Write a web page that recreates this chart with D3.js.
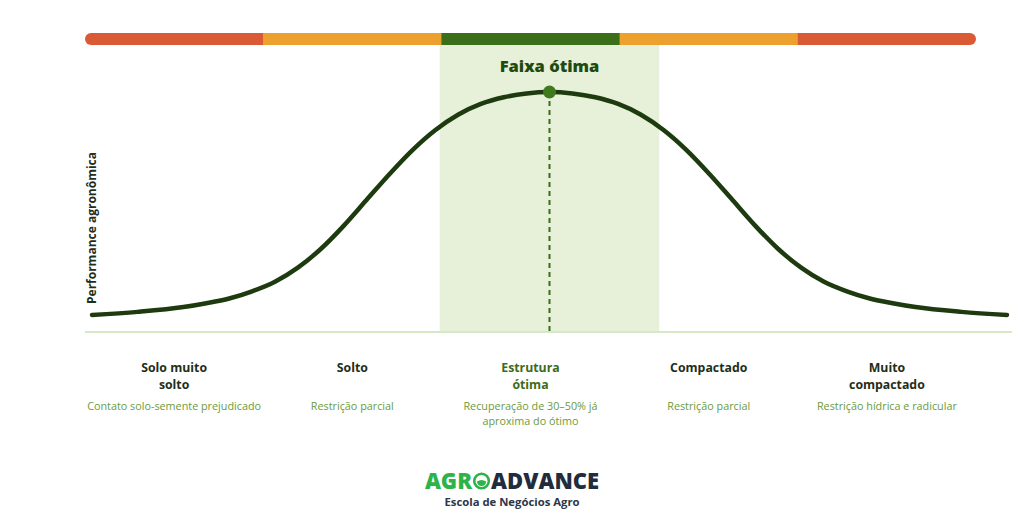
<!DOCTYPE html>
<html><head><meta charset="utf-8">
<script src="https://cdn.jsdelivr.net/npm/d3@7"></script>
<style>body{margin:0;background:#fff}svg{display:block}</style>
</head><body>
<div id="chart"></div>
<script>
// ---- data ----
const categories = ["Solo muito solto","Solto","Estrutura ótima","Compactado","Muito compactado"];
const categoryLines = [["Solo muito","solto"],["Solto"],["Estrutura","ótima"],["Compactado"],["Muito","compactado"]];
const categoryNotes = [["Contato solo-semente prejudicado"],["Restrição parcial"],["Recuperação de 30–50% já","aproxima do ótimo"],["Restrição parcial"],["Restrição hídrica e radicular"]];
const zoneColors = ["#d95a34","#eca02d","#3b6e19","#eca02d","#d95a34"];
const curveX = [0,5,10,12.5,15,17.5,20,22.5,25,27.5,30,32.5,35,37.5,40,42.5,45,47.5,50,52.5,55,57.5,60,62.5,65,67.5,70,72.5,75,77.5,80,82.5,85,87.5,90,95,100];
const curveY = [6.7,8.0,10,11.6,13.6,16.6,20.6,26.5,34.3,44,54.8,65.6,75.6,84,90.5,95,97.8,99.4,100,99.4,97.8,95,90.5,84,75.6,65.6,54.8,44,34.3,26.5,20.6,16.6,13.6,11.6,10,8.0,6.7];
const optimalBand = [38, 62];
const optimum = {x: 50, y: 100};
const yLabel = "Performance agronômica";
const bandLabel = "Faixa ótima";
const logoParts = ["AGR", "ADVANCE"];
const logoSub = "Escola de Negócios Agro";

const W = 1024, H = 518;
const svg = d3.select("#chart").append("svg").attr("width", W).attr("height", H);
const font = "'Open Sans', sans-serif";

const xCat = d3.scaleBand().domain(categories).range([85, 976]).padding(0);
const x = d3.scaleLinear().domain([0, 100]).range([92, 1007]);
const y = d3.scaleLinear().domain([0, 100]).range([331, 92]);

// optimal band
svg.append("rect").attr("x", x(optimalBand[0])).attr("y", 45)
  .attr("width", x(optimalBand[1]) - x(optimalBand[0])).attr("height", y(0) - 45)
  .attr("fill", "#e7f1da");

// top zone bar
const defs = svg.append("defs");
defs.append("clipPath").attr("id", "barclip").append("rect")
  .attr("x", 85).attr("y", 33).attr("width", 891).attr("height", 12).attr("rx", 6);
svg.append("g").attr("clip-path", "url(#barclip)").selectAll("rect").data(categories).join("rect")
  .attr("x", d => xCat(d)).attr("y", 33).attr("width", xCat.bandwidth() + 0.5).attr("height", 12)
  .attr("fill", (d, i) => zoneColors[i]);

// baseline
svg.append("line").attr("x1", 85).attr("x2", 1012).attr("y1", y(0) + 1).attr("y2", y(0) + 1)
  .attr("stroke", "#c9e0b2").attr("stroke-width", 1.6);

// dashed optimum line
svg.append("line").attr("x1", x(optimum.x)).attr("x2", x(optimum.x))
  .attr("y1", y(optimum.y)).attr("y2", y(0))
  .attr("stroke", "#3d6b1a").attr("stroke-width", 2).attr("stroke-dasharray", "5,4");

// curve
const pts = curveX.map((v, i) => [v, curveY[i]]);
svg.append("path").datum(pts)
  .attr("d", d3.line().x(d => x(d[0])).y(d => y(d[1])).curve(d3.curveMonotoneX))
  .attr("fill", "none").attr("stroke", "#1d3b0f").attr("stroke-width", 4.5).attr("stroke-linecap", "round");

// optimum dot
svg.append("circle").attr("cx", x(optimum.x)).attr("cy", y(optimum.y)).attr("r", 6.5).attr("fill", "#3f7a1c");

// band label
svg.append("text").attr("x", x(optimum.x)).attr("y", 72).attr("text-anchor", "middle")
  .attr("font-family", font).attr("font-weight", 800).attr("font-size", 16.5).attr("fill", "#1f4a10")
  .text(bandLabel);

// y label
svg.append("text").attr("transform", `translate(96,228) rotate(-90)`).attr("text-anchor", "middle")
  .attr("font-family", font).attr("font-weight", 700).attr("font-size", 12).attr("fill", "#1e2e18")
  .text(yLabel);

// category labels
const cg = svg.append("g").selectAll("g").data(categories).join("g")
  .attr("transform", d => `translate(${xCat(d) + xCat.bandwidth() / 2},0)`);
cg.each(function(d, i) {
  const g = d3.select(this);
  categoryLines[i].forEach((t, j) => {
    g.append("text").attr("y", 372 + j * 17).attr("text-anchor", "middle")
      .attr("font-family", font).attr("font-weight", 700).attr("font-size", 12.3)
      .attr("fill", i === 2 ? "#3d6b1a" : "#1e2e18").text(t);
  });
  categoryNotes[i].forEach((t, j) => {
    g.append("text").attr("y", 410 + j * 15).attr("text-anchor", "middle")
      .attr("font-family", font).attr("font-size", 10.8).attr("fill", "#6b9b3c").text(t);
  });
});

// logo
const logo = svg.append("g");
const t1 = logo.append("text").attr("y", 489).attr("font-family", font).attr("font-weight", 800)
  .attr("font-size", 22).attr("fill", "#2db34a").text(logoParts[0]);
const t2 = logo.append("text").attr("y", 489).attr("font-family", font).attr("font-weight", 800)
  .attr("font-size", 22).attr("fill", "#1f2d3d").text(logoParts[1]);
const w1 = t1.node().getComputedTextLength(), w2 = t2.node().getComputedTextLength();
const oW = 19;
const total = w1 + oW + w2;
const x0 = 512 - total / 2;
t1.attr("x", x0);
t2.attr("x", x0 + w1 + oW);
const ocx = x0 + w1 + oW / 2, ocy = 481;
logo.append("circle").attr("cx", ocx).attr("cy", ocy).attr("r", 7.3)
  .attr("fill", "none").attr("stroke", "#2db34a").attr("stroke-width", 2.6);
logo.append("path")
  .attr("d", `M${ocx - 4.6},${ocy + 0.5} Q${ocx},${ocy - 2.5} ${ocx + 4.6},${ocy + 0.5} A4.6,4.6 0 0 1 ${ocx - 4.6},${ocy + 0.5} Z`)
  .attr("fill", "#2db34a");
logo.append("text").attr("x", 512).attr("y", 506).attr("text-anchor", "middle")
  .attr("font-family", font).attr("font-weight", 700).attr("font-size", 11.3).attr("fill", "#2d3748")
  .text(logoSub);
</script>
</body></html>
